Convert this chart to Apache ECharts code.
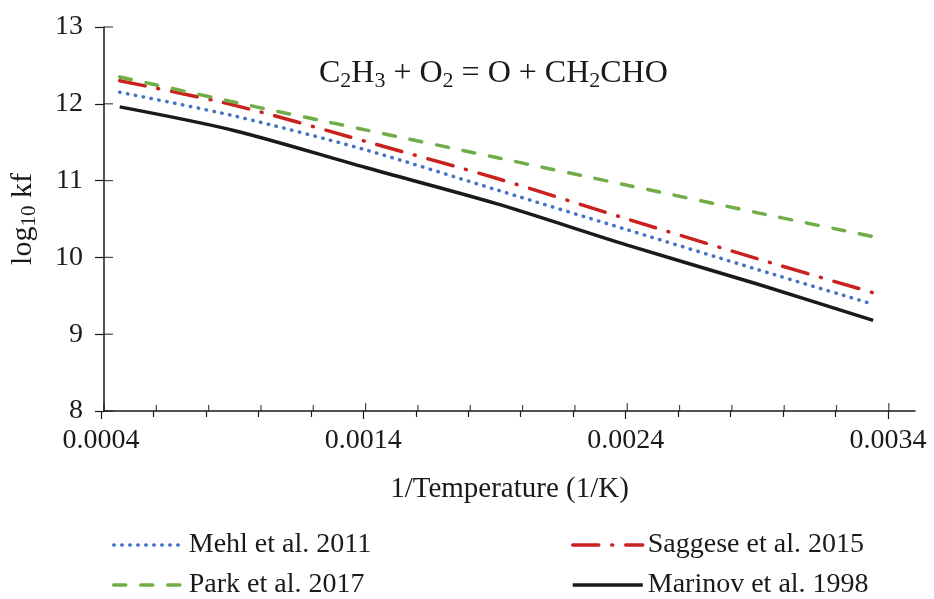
<!DOCTYPE html>
<html>
<head>
<meta charset="UTF-8">
<title>C2H3 + O2 = O + CH2CHO</title>
<script src="https://cdn.jsdelivr.net/npm/echarts@6/dist/echarts.min.js"></script>
<style>
  html, body { margin: 0; padding: 0; background: #fff; }
  #main { width: 934px; height: 599px; }
</style>
</head>
<body>
<div id="main"></div>
<script type="text/javascript">
// inverse temperature (1/K) where the curves were read
var invT = [0.00046, 0.0009, 0.0014, 0.0019, 0.0024, 0.0029, 0.00334];
// log10 kf
var mehl2011     = [12.15, 11.84, 11.40, 10.88, 10.36, 9.84, 9.39];
var saggese2015  = [12.30, 11.98, 11.51, 11.03, 10.50, 9.98, 9.54];
var park2017     = [12.35, 12.02, 11.66, 11.30, 10.94, 10.58, 10.27];
var marinov1998  = [11.96, 11.65, 11.17, 10.70, 10.16, 9.65, 9.18];
// tick values
var xMajorTicks  = [0.0004, 0.0014, 0.0024, 0.0034];
var xMinorTicks  = [0.0006, 0.0008, 0.0010, 0.0012, 0.0016, 0.0018, 0.0020, 0.0022,
                    0.0026, 0.0028, 0.0030, 0.0032];
var yTicks       = [8, 9, 10, 11, 12, 13];
var xTickLabels  = ['0.0004', '0.0014', '0.0024', '0.0034'];

var font = 'Liberation Serif';
var ink = '#1a1a1a';

function pairs(ys) {
    return invT.map(function (x, i) { return [x, ys[i]]; });
}

var myChart = echarts.init(document.getElementById('main'));

var legendBase = {
    orient: 'horizontal',
    padding: 0,
    itemWidth: 70,
    itemHeight: 14,
    textStyle: { fontFamily: font, fontSize: 28, color: ink },
    lineStyle: { width: 3.5 },
    itemStyle: { color: 'transparent', borderWidth: 0, opacity: 0 }
};

var tickStyle = { color: ink, width: 1.2 };

// inner half of the crossing ticks: small rects placed on the axis values
function tickMarks(name, data, size, offset) {
    return {
        name: name, type: 'scatter', xAxisIndex: 0, yAxisIndex: 0,
        data: data, symbol: 'rect', symbolSize: size, symbolOffset: offset,
        itemStyle: { color: ink }, silent: true, clip: false, z: 3
    };
}

var option = {
    animation: false,
    title: {
        text: 'C{s|2}H{s|3} + O{s|2} = O + CH{s|2}CHO',
        left: 314,
        top: 51,
        textStyle: {
            fontFamily: font, fontSize: 32, fontWeight: 'normal', color: ink,
            rich: { s: { fontFamily: font, fontSize: 22, color: ink, padding: [14, 0, 0, 0] } }
        }
    },
    legend: [
        Object.assign({ data: ['Mehl et al. 2011'], left: 112, top: 531 }, legendBase),
        Object.assign({ data: ['Saggese et al. 2015'], left: 571, top: 531 }, legendBase),
        Object.assign({ data: ['Park et al. 2017'], left: 112, top: 571 }, legendBase),
        Object.assign({ data: ['Marinov et al. 1998'], left: 571, top: 571 }, legendBase)
    ],
    grid: [
        { left: 101, right: 19, top: 27, bottom: 188 },
        // same scale, stops at 0.0034 so no tick lands on the axis end
        { left: 101, right: 46, top: 27, bottom: 188 }
    ],
    xAxis: [
        {
            type: 'value', gridIndex: 0, min: 0.0004, max: 0.0035,
            name: '1/Temperature (1/K)', nameLocation: 'middle', nameGap: 64,
            nameTextStyle: { fontFamily: font, fontSize: 29, color: ink },
            axisLine: { show: true, onZero: false, lineStyle: { color: ink, width: 1.5 } },
            axisTick: { show: false }, axisLabel: { show: false }, splitLine: { show: false }
        },
        {
            type: 'value', gridIndex: 1, position: 'bottom', min: 0.0004, max: 0.0034, interval: 0.001,
            axisLine: { show: false, onZero: false },
            axisTick: { show: true, length: 8, lineStyle: tickStyle },
            minorTick: { show: true, splitNumber: 5, length: 6, lineStyle: tickStyle },
            axisLabel: {
                margin: 16, fontFamily: font, fontSize: 28, color: ink,
                formatter: function (v) {
                    var s = v.toFixed(4);
                    return xTickLabels.indexOf(s) >= 0 ? s : '';
                }
            },
            splitLine: { show: false }
        }
    ],
    yAxis: [
        {
            type: 'value', gridIndex: 0, position: 'left', min: 8, max: 13, interval: 1,
            name: 'log{s|10} kf', nameLocation: 'middle', nameRotate: 90, nameGap: 64,
            nameTextStyle: {
                fontFamily: font, fontSize: 30, color: ink,
                rich: { s: { fontFamily: font, fontSize: 21, color: ink, padding: [13, 0, 0, 0] } }
            },
            axisLine: { show: true, onZero: false, lineStyle: { color: ink, width: 1.5 } },
            axisTick: { show: true, length: 9, lineStyle: tickStyle },
            axisLabel: { margin: 21, fontFamily: font, fontSize: 28, color: ink },
            splitLine: { show: false }
        },
        {
            type: 'value', gridIndex: 1, min: 8, max: 13, show: false
        }
    ],
    series: [
        {
            name: 'Mehl et al. 2011', type: 'line', xAxisIndex: 0, yAxisIndex: 0,
            data: pairs(mehl2011), smooth: 0.3, symbol: 'none',
            lineStyle: { color: '#4472C4', width: 3.5, type: [0.5, 7.5], cap: 'round' },
            itemStyle: { color: '#4472C4' }
        },
        {
            name: 'Saggese et al. 2015', type: 'line', xAxisIndex: 0, yAxisIndex: 0,
            data: pairs(saggese2015), smooth: 0.3, symbol: 'none',
            lineStyle: { color: '#C9211E', width: 3.5, type: [26, 13, 1, 13], cap: 'round' },
            itemStyle: { color: '#C9211E' }
        },
        {
            name: 'Park et al. 2017', type: 'line', xAxisIndex: 0, yAxisIndex: 0,
            data: pairs(park2017), smooth: 0.3, symbol: 'none',
            lineStyle: { color: '#70AD47', width: 3.5, type: [12, 15], cap: 'round' },
            itemStyle: { color: '#70AD47' }
        },
        {
            name: 'Marinov et al. 1998', type: 'line', xAxisIndex: 0, yAxisIndex: 0,
            data: pairs(marinov1998), smooth: 0.3, symbol: 'none',
            lineStyle: { color: ink, width: 3.5, type: 'solid' },
            itemStyle: { color: ink }
        },
        tickMarks('xMajorTicks', xMajorTicks.map(function (v) { return [v, 8]; }), [1.2, 8], [0, -4]),
        tickMarks('xMinorTicks', xMinorTicks.map(function (v) { return [v, 8]; }), [1.2, 6], [0, -3]),
        tickMarks('yTicks', yTicks.map(function (v) { return [0.0004, v]; }), [9, 1.2], [4.5, 0])
    ]
};

myChart.setOption(option);
</script>
</body>
</html>
